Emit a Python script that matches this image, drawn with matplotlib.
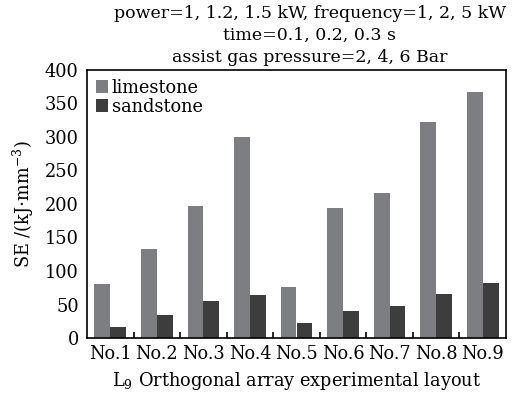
import matplotlib
matplotlib.use("Agg")
import matplotlib.pyplot as plt
import numpy as np

plt.rcParams['font.family'] = ['DejaVu Serif']
plt.rcParams['mathtext.fontset'] = 'dejavuserif'

categories = ["No.1", "No.2", "No.3", "No.4", "No.5", "No.6", "No.7", "No.8", "No.9"]
limestone = [80, 133, 197, 300, 76, 194, 217, 323, 367]
sandstone = [17, 34, 55, 64, 22, 40, 48, 66, 82]
title_lines = [
    "power=1, 1.2, 1.5 kW, frequency=1, 2, 5 kW",
    "time=0.1, 0.2, 0.3 s",
    "assist gas pressure=2, 4, 6 Bar",
]

fs = 12.8
fig = plt.figure(figsize=(5.25, 3.99), dpi=100)
ax = fig.add_axes([87/525, 1 - 338/399, (506-87)/525, (338-70)/399])

x = np.arange(1, len(categories) + 1)
w = 0.34
ax.bar(x - w/2, limestone, width=w, color="#7d7e82", label="limestone", zorder=2)
ax.bar(x + w/2, sandstone, width=w, color="#3d3d3d", label="sandstone", zorder=2)

ax.set_xlim(0.5, 9.5)
ax.set_ylim(0, 400)
ax.set_yticks(np.arange(0, 401, 50))
ax.set_xticks(x)
ax.set_xticklabels(categories, fontsize=fs)
ax.set_xticks(np.arange(1.5, 9.5, 1), minor=True)
ax.tick_params(axis='x', which='major', length=0, pad=5)
ax.tick_params(axis='x', which='minor', direction='in', length=4, width=1.2)
ax.tick_params(axis='y', length=0, labelsize=fs, pad=6)
for s in ax.spines.values():
    s.set_linewidth(1.2)

ax.set_ylabel(r"SE /(kJ$\cdot$mm$^{-3}$)", fontsize=fs, labelpad=6)
ax.set_xlabel(r"L$_9$ Orthogonal array experimental layout", fontsize=fs, labelpad=5)

leg = ax.legend(loc="upper left", frameon=False, fontsize=fs, handlelength=0.7,
                handleheight=0.7, handletextpad=0.2, labelspacing=0.05,
                borderaxespad=0.1, bbox_to_anchor=(0.0, 1.0))

cx = (87 + 506) / 2 / 525
for i, line in enumerate(title_lines):
    fig.text(cx + 0.025, 1 - (14 + i * 21.5) / 399, line, ha="center", va="center", fontsize=12.5)

fig.savefig("out.png", dpi=100)
